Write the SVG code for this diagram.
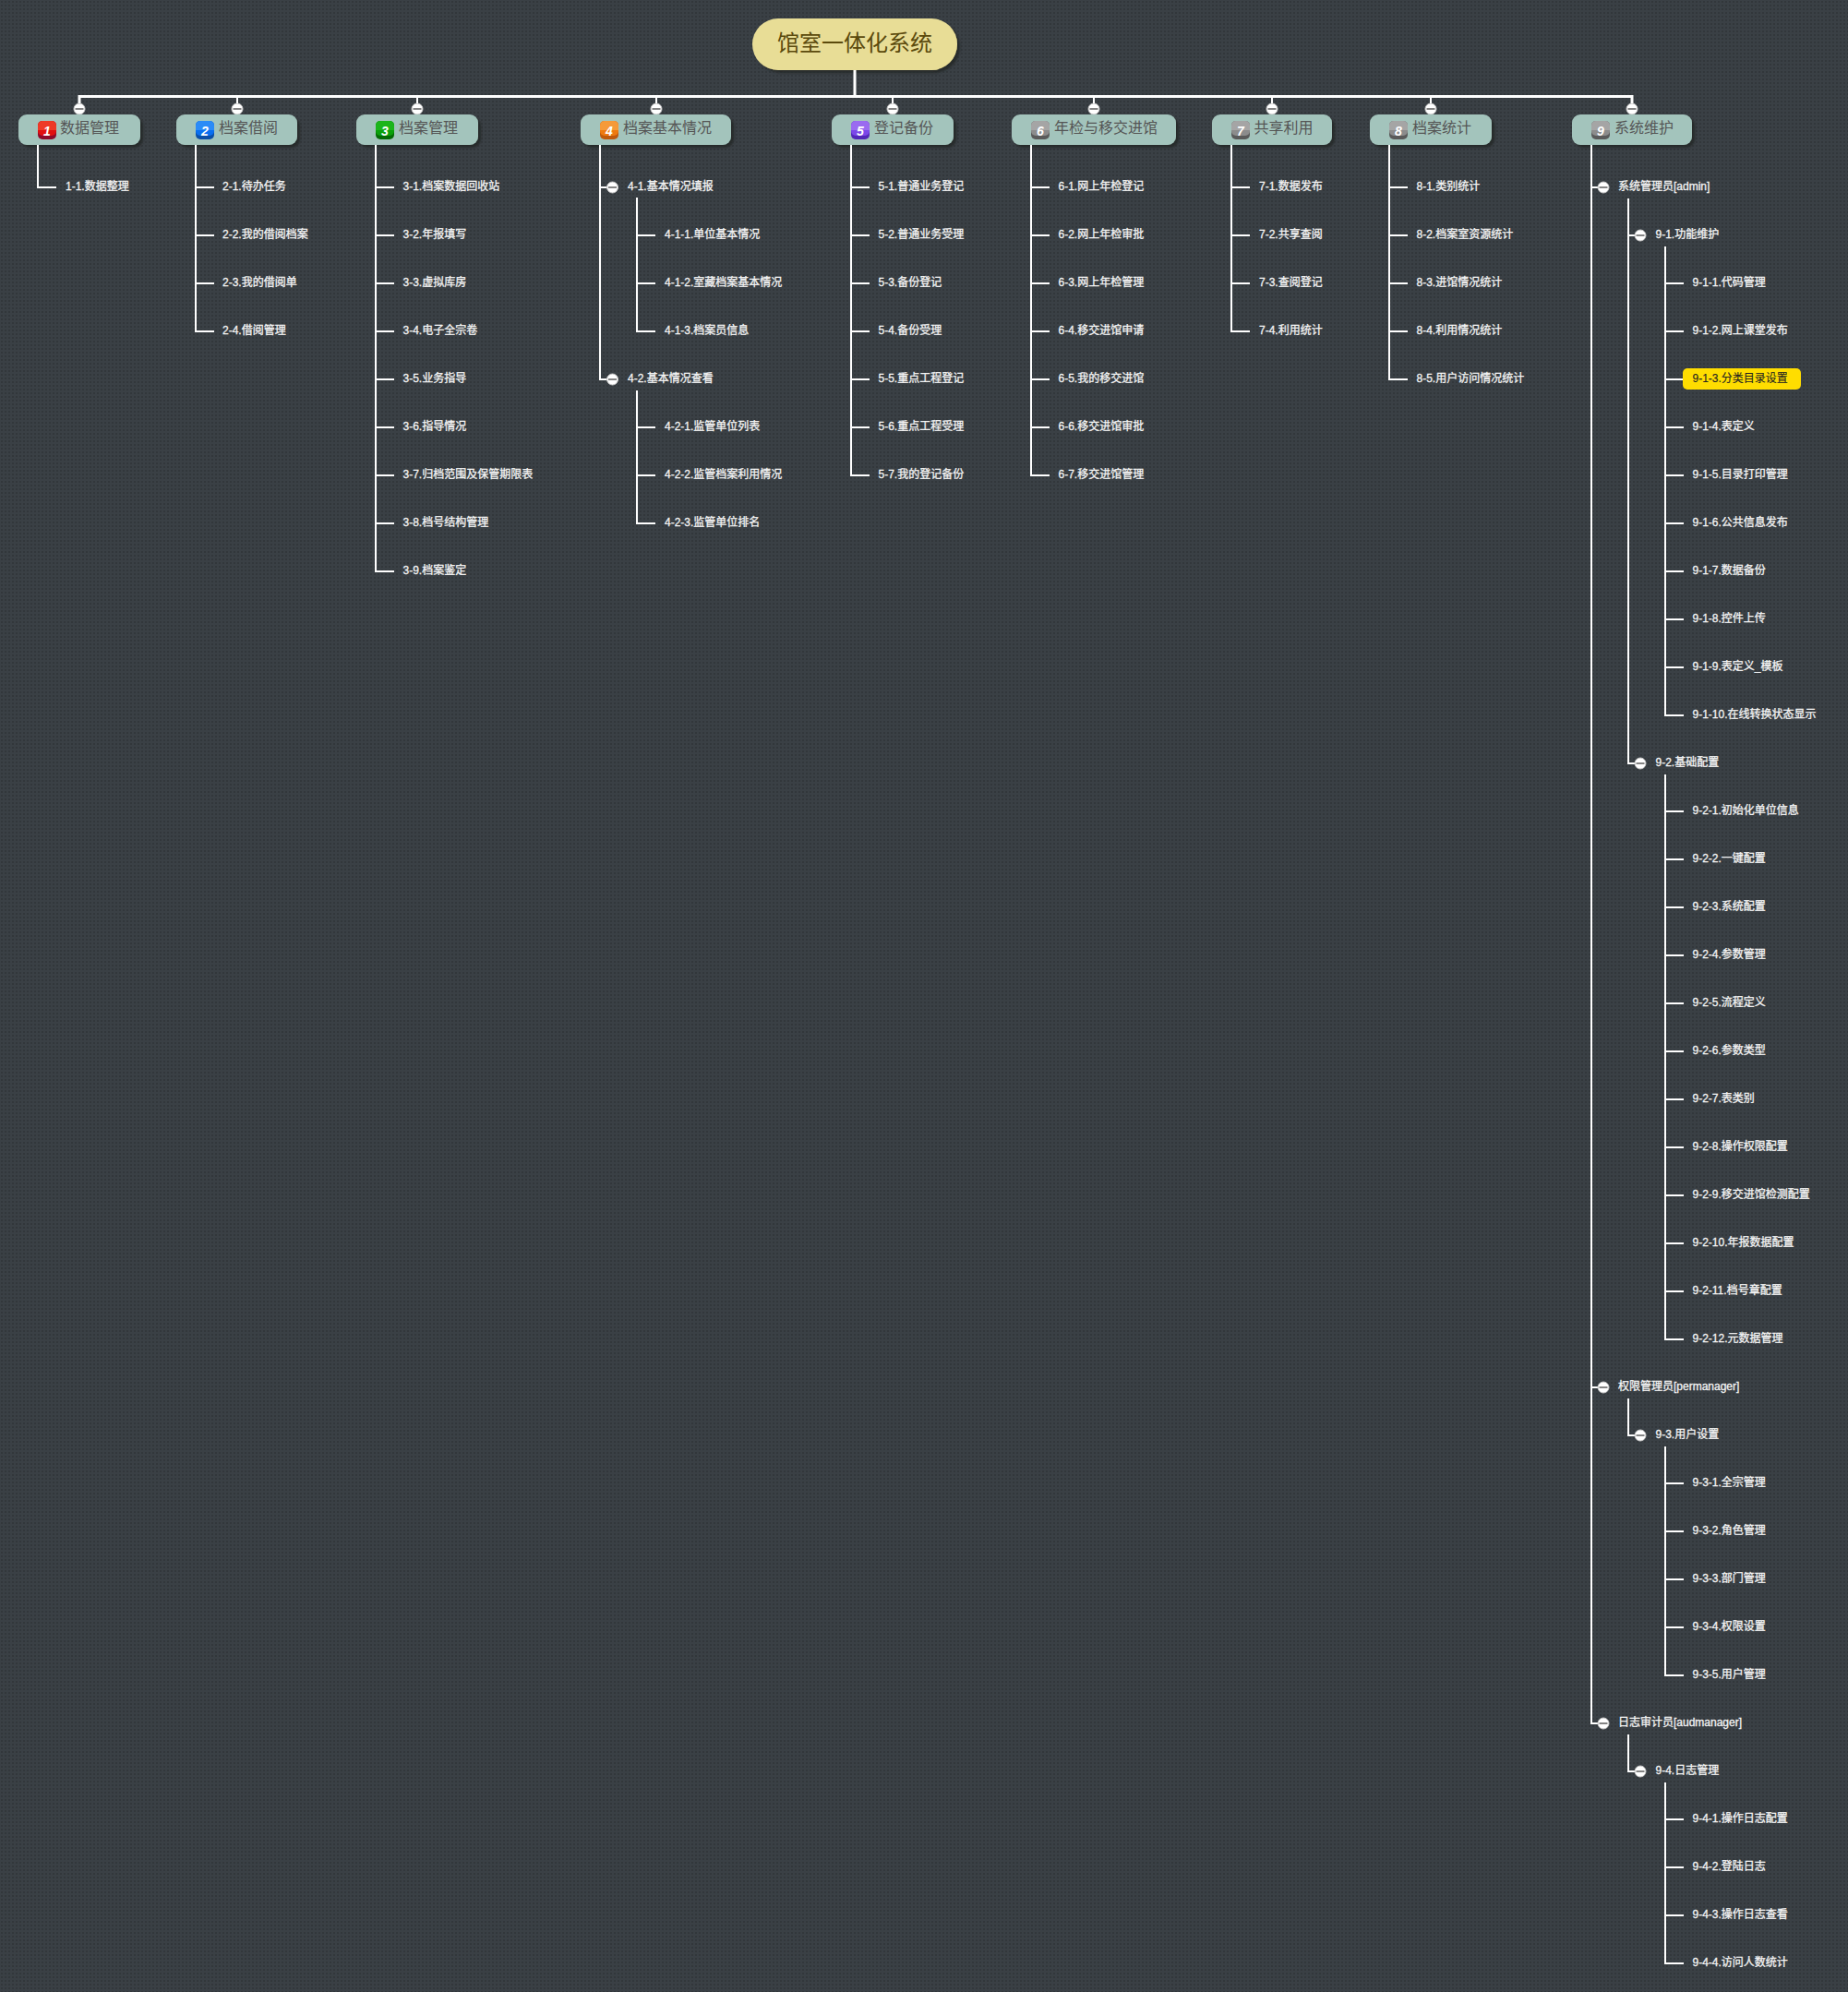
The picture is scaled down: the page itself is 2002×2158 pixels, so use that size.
<svg xmlns="http://www.w3.org/2000/svg" width="2002" height="2158" viewBox="0 0 2002 2158">
<defs>
<pattern id="bg" width="4" height="4" patternUnits="userSpaceOnUse"><rect width="4" height="4" fill="#3a4045"/><rect x="1" y="1" width="2" height="2" fill="#32373b"/></pattern>
<filter id="sh" x="-10%" y="-20%" width="125%" height="150%"><feDropShadow dx="3" dy="3" stdDeviation="1" flood-color="#25292c" flood-opacity="1"/></filter>
<g id="c"><circle r="6" fill="#fff" stroke="#c8c8c8" stroke-width="1"/><path d="M-4.5 0H4.5" stroke="#666" stroke-width="1.6"/></g>
<g id="badge"><rect class="bb" width="20" height="20" rx="5"/><rect class="bm" width="20" height="16" rx="5"/><path class="bt" d="M0 10V5a5 5 0 0 1 5-5H15a5 5 0 0 1 5 5V10Z"/></g>
</defs>
<style>
text{font-family:"Liberation Sans","Noto Sans CJK SC",sans-serif}
.l{font-size:12px;fill:#f4f4f4;stroke:#f4f4f4;stroke-width:.3px}
.t{font-size:16px;fill:#555}
.r{font-size:24px;fill:#5b4a0c}
.n{font-size:14px;fill:#fff;font-style:italic;font-weight:bold;text-anchor:middle}
.tb{fill:#a3c4bc;filter:url(#sh)}
.cn path{fill:none;stroke:#fff;stroke-width:2}
.cn path.m{stroke-width:3}
.c1{--b:#8e0a2a;--m:#e01010;--t:#ee3a27}
.c2{--b:#0b4fa8;--m:#0a6ff0;--t:#2b8bf7}
.c3{--b:#036b03;--m:#0aa00a;--t:#1bb51b}
.c4{--b:#c0590c;--m:#ee7a10;--t:#f59a3a}
.c5{--b:#5228b8;--m:#7b48e8;--t:#9a6bf0}
.c6{--b:#5a5a5a;--m:#8c8c8c;--t:#a5a5a5}
.bb{fill:var(--b)}.bm{fill:var(--m)}.bt{fill:var(--t)}
</style>
<rect id="background" width="2002" height="2158" fill="url(#bg)"/>
<g id="root"><rect x="815" y="20" width="222" height="56" rx="28" fill="#e8dd96" filter="url(#sh)"/><text class="r" x="842" y="55">馆室一体化系统</text></g>
<g id="t1"><use href="#c" x="86" y="118"/><rect class="tb" x="20" y="124" width="132" height="33" rx="9"/><g class="c1"><use href="#badge" x="41" y="131"/></g><text class="n" x="51" y="147">1</text><text class="t" x="65" y="144">数据管理</text></g>
<g id="t2"><use href="#c" x="257" y="118"/><rect class="tb" x="191" y="124" width="131" height="33" rx="9"/><g class="c2"><use href="#badge" x="212" y="131"/></g><text class="n" x="222" y="147">2</text><text class="t" x="237" y="144">档案借阅</text></g>
<g id="t3"><use href="#c" x="452" y="118"/><rect class="tb" x="386" y="124" width="132" height="33" rx="9"/><g class="c3"><use href="#badge" x="407" y="131"/></g><text class="n" x="417" y="147">3</text><text class="t" x="432" y="144">档案管理</text></g>
<g id="t4"><use href="#c" x="711" y="118"/><rect class="tb" x="629" y="124" width="163" height="33" rx="9"/><g class="c4"><use href="#badge" x="650" y="131"/></g><text class="n" x="660" y="147">4</text><text class="t" x="675" y="144">档案基本情况</text></g>
<g id="t5"><use href="#c" x="967" y="118"/><rect class="tb" x="901" y="124" width="132" height="33" rx="9"/><g class="c5"><use href="#badge" x="922" y="131"/></g><text class="n" x="932" y="147">5</text><text class="t" x="947" y="144">登记备份</text></g>
<g id="t6"><use href="#c" x="1185" y="118"/><rect class="tb" x="1096" y="124" width="178" height="33" rx="9"/><g class="c6"><use href="#badge" x="1117" y="131"/></g><text class="n" x="1127" y="147">6</text><text class="t" x="1142" y="144">年检与移交进馆</text></g>
<g id="t7"><use href="#c" x="1378" y="118"/><rect class="tb" x="1313" y="124" width="130" height="33" rx="9"/><g class="c6"><use href="#badge" x="1334" y="131"/></g><text class="n" x="1344" y="147">7</text><text class="t" x="1358.500" y="144">共享利用</text></g>
<g id="t8"><use href="#c" x="1550" y="118"/><rect class="tb" x="1484" y="124" width="132" height="33" rx="9"/><g class="c6"><use href="#badge" x="1505" y="131"/></g><text class="n" x="1515" y="147">8</text><text class="t" x="1530" y="144">档案统计</text></g>
<g id="t9"><use href="#c" x="1768" y="118"/><rect class="tb" x="1703" y="124" width="130" height="33" rx="9"/><g class="c6"><use href="#badge" x="1724" y="131"/></g><text class="n" x="1734" y="147">9</text><text class="t" x="1749" y="144">系统维护</text></g>
<g id="connectors" class="cn">
<path class="m" d="M926 76V104.500M86 112V104.500H1768V112"/>
<path d="M257 105V112M452 105V112M711 105V112M967 105V112M1185 105V112M1378 105V112M1550 105V112"/>
<path d="M41 157V203H61"/>
<path d="M212 157V359H232M212 203H232M212 255H232M212 307H232"/>
<path d="M407 157V619H427M407 203H427M407 255H427M407 307H427M407 359H427M407 411H427M407 463H427M407 515H427M407 567H427"/>
<path d="M650 157V411H664M650 203H664"/>
<path d="M690 214V359H710M690 255H710M690 307H710"/>
<path d="M690 423V567H710M690 463H710M690 515H710"/>
<path d="M922 157V515H942M922 203H942M922 255H942M922 307H942M922 359H942M922 411H942M922 463H942"/>
<path d="M1117 157V515H1137M1117 203H1137M1117 255H1137M1117 307H1137M1117 359H1137M1117 411H1137M1117 463H1137"/>
<path d="M1334 157V359H1354M1334 203H1354M1334 255H1354M1334 307H1354"/>
<path d="M1505 157V411H1525M1505 203H1525M1505 255H1525M1505 307H1525M1505 359H1525"/>
<path d="M1724 157V1867H1737M1724 203H1737M1724 1503H1737"/>
<path d="M1764 215V827H1777M1764 255H1777"/>
<path d="M1804 267V775H1824M1804 307H1824M1804 359H1824M1804 411H1824M1804 463H1824M1804 515H1824M1804 567H1824M1804 619H1824M1804 671H1824M1804 723H1824"/>
<path d="M1804 839V1451H1824M1804 879H1824M1804 931H1824M1804 983H1824M1804 1035H1824M1804 1087H1824M1804 1139H1824M1804 1191H1824M1804 1243H1824M1804 1295H1824M1804 1347H1824M1804 1399H1824"/>
<path d="M1764 1515V1555H1777"/>
<path d="M1804 1567V1815H1824M1804 1607H1824M1804 1659H1824M1804 1711H1824M1804 1763H1824"/>
<path d="M1764 1879V1919H1777"/>
<path d="M1804 1931V2127H1824M1804 1971H1824M1804 2023H1824M1804 2075H1824"/>
</g>
<g id="leaves-1" class="l"><text x="71" y="206">1-1.数据整理</text></g>
<g id="leaves-2" class="l">
<text x="241" y="206">2-1.待办任务</text>
<text x="241" y="258">2-2.我的借阅档案</text>
<text x="241" y="310">2-3.我的借阅单</text>
<text x="241" y="362">2-4.借阅管理</text>
</g>
<g id="leaves-3" class="l">
<text x="436.500" y="206">3-1.档案数据回收站</text>
<text x="436.500" y="258">3-2.年报填写</text>
<text x="436.500" y="310">3-3.虚拟库房</text>
<text x="436.500" y="362">3-4.电子全宗卷</text>
<text x="436.500" y="414">3-5.业务指导</text>
<text x="436.500" y="466">3-6.指导情况</text>
<text x="436.500" y="518">3-7.归档范围及保管期限表</text>
<text x="436.500" y="570">3-8.档号结构管理</text>
<text x="436.500" y="622">3-9.档案鉴定</text>
</g>
<g id="n4-1"><use href="#c" x="663.500" y="203"/><text class="l" x="680" y="206">4-1.基本情况填报</text></g>
<g id="leaves-4-1" class="l">
<text x="720" y="258">4-1-1.单位基本情况</text>
<text x="720" y="310">4-1-2.室藏档案基本情况</text>
<text x="720" y="362">4-1-3.档案员信息</text>
</g>
<g id="n4-2"><use href="#c" x="663.500" y="411"/><text class="l" x="680" y="414">4-2.基本情况查看</text></g>
<g id="leaves-4-2" class="l">
<text x="720" y="466">4-2-1.监管单位列表</text>
<text x="720" y="518">4-2-2.监管档案利用情况</text>
<text x="720" y="570">4-2-3.监管单位排名</text>
</g>
<g id="leaves-5" class="l">
<text x="951.500" y="206">5-1.普通业务登记</text>
<text x="951.500" y="258">5-2.普通业务受理</text>
<text x="951.500" y="310">5-3.备份登记</text>
<text x="951.500" y="362">5-4.备份受理</text>
<text x="951.500" y="414">5-5.重点工程登记</text>
<text x="951.500" y="466">5-6.重点工程受理</text>
<text x="951.500" y="518">5-7.我的登记备份</text>
</g>
<g id="leaves-6" class="l">
<text x="1146.500" y="206">6-1.网上年检登记</text>
<text x="1146.500" y="258">6-2.网上年检审批</text>
<text x="1146.500" y="310">6-3.网上年检管理</text>
<text x="1146.500" y="362">6-4.移交进馆申请</text>
<text x="1146.500" y="414">6-5.我的移交进馆</text>
<text x="1146.500" y="466">6-6.移交进馆审批</text>
<text x="1146.500" y="518">6-7.移交进馆管理</text>
</g>
<g id="leaves-7" class="l">
<text x="1364" y="206">7-1.数据发布</text>
<text x="1364" y="258">7-2.共享查阅</text>
<text x="1364" y="310">7-3.查阅登记</text>
<text x="1364" y="362">7-4.利用统计</text>
</g>
<g id="leaves-8" class="l">
<text x="1534.500" y="206">8-1.类别统计</text>
<text x="1534.500" y="258">8-2.档案室资源统计</text>
<text x="1534.500" y="310">8-3.进馆情况统计</text>
<text x="1534.500" y="362">8-4.利用情况统计</text>
<text x="1534.500" y="414">8-5.用户访问情况统计</text>
</g>
<g id="n9-a"><use href="#c" x="1737" y="203"/><text class="l" x="1753" y="206">系统管理员[admin]</text></g>
<g id="n9-1"><use href="#c" x="1777" y="255"/><text class="l" x="1793.500" y="258">9-1.功能维护</text></g>
<g id="leaves-9-1" class="l">
<text x="1833.500" y="310">9-1-1.代码管理</text>
<text x="1833.500" y="362">9-1-2.网上课堂发布</text>
<rect x="1823" y="399" width="128" height="23" rx="5" fill="#ffdd00" stroke="none"/>
<text x="1833.500" y="414" style="fill:#222;stroke:#222;stroke-width:.1px">9-1-3.分类目录设置</text>
<text x="1833.500" y="466">9-1-4.表定义</text>
<text x="1833.500" y="518">9-1-5.目录打印管理</text>
<text x="1833.500" y="570">9-1-6.公共信息发布</text>
<text x="1833.500" y="622">9-1-7.数据备份</text>
<text x="1833.500" y="674">9-1-8.控件上传</text>
<text x="1833.500" y="726">9-1-9.表定义_模板</text>
<text x="1833.500" y="778">9-1-10.在线转换状态显示</text>
</g>
<g id="n9-2"><use href="#c" x="1777" y="827"/><text class="l" x="1793.500" y="830">9-2.基础配置</text></g>
<g id="leaves-9-2" class="l">
<text x="1833.500" y="882">9-2-1.初始化单位信息</text>
<text x="1833.500" y="934">9-2-2.一键配置</text>
<text x="1833.500" y="986">9-2-3.系统配置</text>
<text x="1833.500" y="1038">9-2-4.参数管理</text>
<text x="1833.500" y="1090">9-2-5.流程定义</text>
<text x="1833.500" y="1142">9-2-6.参数类型</text>
<text x="1833.500" y="1194">9-2-7.表类别</text>
<text x="1833.500" y="1246">9-2-8.操作权限配置</text>
<text x="1833.500" y="1298">9-2-9.移交进馆检测配置</text>
<text x="1833.500" y="1350">9-2-10.年报数据配置</text>
<text x="1833.500" y="1402">9-2-11.档号章配置</text>
<text x="1833.500" y="1454">9-2-12.元数据管理</text>
</g>
<g id="n9-b"><use href="#c" x="1737" y="1503"/><text class="l" x="1753" y="1506">权限管理员[permanager]</text></g>
<g id="n9-3"><use href="#c" x="1777" y="1555"/><text class="l" x="1793.500" y="1558">9-3.用户设置</text></g>
<g id="leaves-9-3" class="l">
<text x="1833.500" y="1610">9-3-1.全宗管理</text>
<text x="1833.500" y="1662">9-3-2.角色管理</text>
<text x="1833.500" y="1714">9-3-3.部门管理</text>
<text x="1833.500" y="1766">9-3-4.权限设置</text>
<text x="1833.500" y="1818">9-3-5.用户管理</text>
</g>
<g id="n9-c"><use href="#c" x="1737" y="1867"/><text class="l" x="1753" y="1870">日志审计员[audmanager]</text></g>
<g id="n9-4"><use href="#c" x="1777" y="1919"/><text class="l" x="1793.500" y="1922">9-4.日志管理</text></g>
<g id="leaves-9-4" class="l">
<text x="1833.500" y="1974">9-4-1.操作日志配置</text>
<text x="1833.500" y="2026">9-4-2.登陆日志</text>
<text x="1833.500" y="2078">9-4-3.操作日志查看</text>
<text x="1833.500" y="2130">9-4-4.访问人数统计</text>
</g>
</svg>
